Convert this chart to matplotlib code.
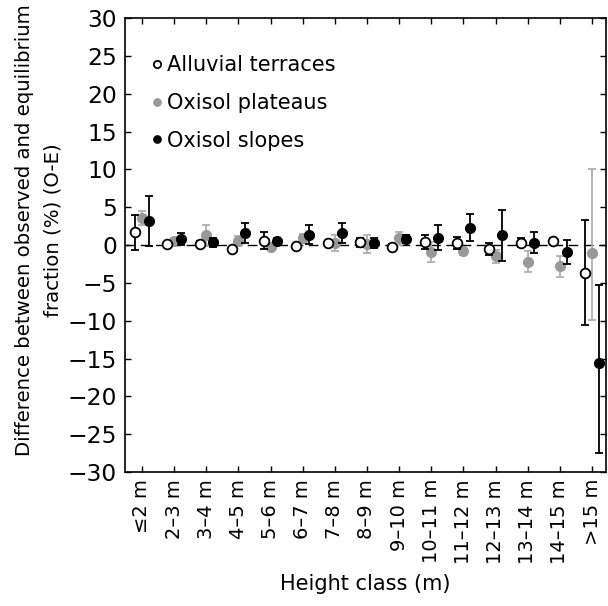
import numpy as np
import matplotlib
matplotlib.use("Agg")
import matplotlib.pyplot as plt

plt.rcParams['font.family'] = ['DejaVu Sans']

# Height classes
classes = ['≤2 m', '2–3 m', '3–4 m', '4–5 m', '5–6 m', '6–7 m', '7–8 m', '8–9 m',
           '9–10 m', '10–11 m', '11–12 m', '12–13 m', '13–14 m', '14–15 m', '>15 m']

# O-E values (%) and lower/upper error bars
alluvial = [1.7, 0.1, 0.1, -0.5, 0.6, -0.1, 0.3, 0.4, -0.2, 0.4, 0.3, -0.5, 0.3, 0.6, -3.7]
alluvial_lo = [2.3, 0.3, 0.4, 0.3, 1.1, 0.3, 0.3, 0.6, 0.3, 0.9, 0.8, 0.8, 0.6, 0.3, 6.9]
alluvial_hi = [2.3, 0.3, 0.4, 0.3, 1.1, 0.3, 0.3, 0.6, 0.3, 0.9, 0.8, 0.8, 0.6, 0.3, 7.0]
plateau = [3.6, 0.5, 1.3, 0.6, -0.2, 0.9, 0.3, 0.2, 0.9, -0.9, -0.8, -1.5, -2.2, -2.8, -1.0]
plateau_lo = [0.9, 0.5, 1.4, 0.6, 0.5, 0.6, 1.1, 1.2, 0.9, 1.3, 0.5, 0.9, 1.4, 1.4, 8.9]
plateau_hi = [0.9, 0.5, 1.4, 0.6, 0.5, 0.6, 1.1, 1.2, 0.9, 1.3, 0.5, 0.9, 1.4, 1.4, 11.0]
slopes = [3.2, 0.8, 0.4, 1.6, 0.5, 1.4, 1.6, 0.3, 0.8, 1.0, 2.3, 1.3, 0.3, -0.9, -15.6]
slopes_lo = [3.3, 0.8, 0.6, 1.3, 0.4, 1.2, 1.3, 0.7, 0.5, 1.6, 1.8, 3.4, 1.4, 1.6, 11.9]
slopes_hi = [3.3, 0.8, 0.6, 1.3, 0.4, 1.2, 1.3, 0.7, 0.5, 1.6, 1.8, 3.4, 1.4, 1.6, 10.3]

x = np.arange(1, len(classes) + 1)
off = 0.21

fig = plt.figure(figsize=(6.08, 6.06), dpi=100)
ax = fig.add_axes([0.206, 0.221, 0.791, 0.749])

ax.axhline(0, color='black', lw=1, ls=(0, (7, 4)), zorder=1)

ax.errorbar(x - off, alluvial, yerr=[alluvial_lo, alluvial_hi], fmt='o', mfc='white',
            mec='black', mew=1.3, ms=7, ecolor='black', elinewidth=1.3, capsize=3,
            capthick=1.3, label='Alluvial terraces', zorder=3)
ax.errorbar(x, plateau, yerr=[plateau_lo, plateau_hi], fmt='o', mfc='#999999',
            mec='#999999', ms=7, ecolor='#b0b0b0', elinewidth=1.3, capsize=3,
            capthick=1.3, label='Oxisol plateaus', zorder=2)
ax.errorbar(x + off, slopes, yerr=[slopes_lo, slopes_hi], fmt='o', mfc='black',
            mec='black', ms=7, ecolor='black', elinewidth=1.3, capsize=3,
            capthick=1.3, label='Oxisol slopes', zorder=4)

ax.set_xlim(0.48, 15.44)
ax.set_ylim(-30, 30)
ax.set_yticks(np.arange(-30, 31, 5))
ax.set_yticklabels([str(v).replace('-', '\u2212') for v in range(-30, 31, 5)])
ax.set_xticks(x)
ax.set_xticklabels(classes, rotation=90)
ax.tick_params(direction='in', length=4, width=1, top=True, right=True, labelsize=16.8)
ax.tick_params(axis='y', pad=6)
ax.tick_params(axis='x', pad=5, labelsize=14)
for s in ax.spines.values():
    s.set_linewidth(1.2)

ax.set_ylabel('Difference between observed and equilibrium\nfraction (%) (O-E)',
              fontsize=14.2, linespacing=1.6)
ax.yaxis.set_label_coords(-0.131, 0.533)
ax.set_xlabel('Height class (m)', fontsize=15)
ax.xaxis.set_label_coords(0.5, -0.224)
ax.xaxis.label.set_va('top')

h, l = ax.get_legend_handles_labels()
h = [hh[0] for hh in h]
ax.legend(h, l, loc='upper left', bbox_to_anchor=(0.02, 0.96), frameon=False,
          fontsize=15, handlelength=0.3, handletextpad=0.35, labelspacing=0.85,
          markerscale=0.75)

fig.savefig('out.png', dpi=100)
